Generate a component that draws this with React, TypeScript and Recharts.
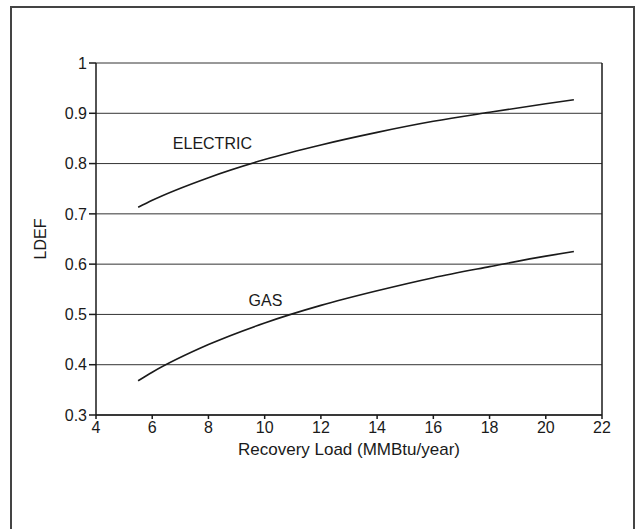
import { CartesianGrid, Line, LineChart, ReferenceDot, ReferenceLine, XAxis, YAxis } from "recharts";

const loads = [5.5, 6, 8, 10, 12, 14, 16, 18, 20, 21];
const electric = [0.713, 0.727, 0.772, 0.808, 0.837, 0.862, 0.884, 0.902, 0.919, 0.927];
const gas = [0.368, 0.385, 0.44, 0.483, 0.518, 0.547, 0.573, 0.595, 0.616, 0.625];
const xTicks = [4, 6, 8, 10, 12, 14, 16, 18, 20, 22];
const yTicks = [0.3, 0.4, 0.5, 0.6, 0.7, 0.8, 0.9, 1];

const data = loads.map((load, i) => ({ load, electric: electric[i], gas: gas[i] }));

const font = "'Liberation Sans', Arial, Helvetica, sans-serif";
const ink = "#1a1a1a";

export default function App() {
  return (
    <div style={{ position: "absolute", left: 0, top: 0, width: 636, height: 529, background: "#fff", overflow: "hidden" }}>
      <div
        style={{
          position: "absolute",
          left: 10,
          top: 6,
          width: 621,
          height: 540,
          borderTop: "2px solid #444",
          borderLeft: "2px solid #444",
          borderRight: "2px solid #444",
        }}
      />
      <div style={{ position: "absolute", left: 0, top: 0 }}>
        <LineChart
          width={636}
          height={529}
          data={data}
          margin={{ top: 63, right: 34, left: 56, bottom: 84 }}
          style={{ fontFamily: font }}
        >
          <CartesianGrid vertical={false} stroke="#333" strokeWidth={1} />
          <XAxis
            dataKey="load"
            type="number"
            domain={[4, 22]}
            ticks={xTicks}
            height={30}
            stroke={ink}
            strokeWidth={1.5}
            tickSize={4}
            tickMargin={3}
            tick={{ fill: ink, fontSize: 16 }}
            label={{ value: "Recovery Load (MMBtu/year)", position: "bottom", offset: -2, fill: ink, fontSize: 17 }}
          />
          <YAxis
            type="number"
            domain={[0.3, 1]}
            ticks={yTicks}
            width={40}
            stroke={ink}
            strokeWidth={1.5}
            tickSize={7}
            tickMargin={2}
            tick={{ fill: ink, fontSize: 16 }}
            label={{ value: "LDEF", angle: -90, position: "insideLeft", offset: -16, fill: ink, fontSize: 16, style: { textAnchor: "middle" } }}
          />
          <ReferenceLine x={22} stroke={ink} strokeWidth={1.5} />
          <Line type="monotone" dataKey="electric" stroke={ink} strokeWidth={1.6} dot={false} isAnimationActive={false} />
          <Line type="monotone" dataKey="gas" stroke={ink} strokeWidth={1.6} dot={false} isAnimationActive={false} />
          <ReferenceDot
            x={8.14}
            y={0.84}
            r={0}
            fill="none"
            stroke="none"
            label={{ value: "ELECTRIC", position: "center", fill: ink, fontSize: 16 }}
          />
          <ReferenceDot
            x={10.03}
            y={0.529}
            r={0}
            fill="none"
            stroke="none"
            label={{ value: "GAS", position: "center", fill: ink, fontSize: 16 }}
          />
        </LineChart>
      </div>
    </div>
  );
}
